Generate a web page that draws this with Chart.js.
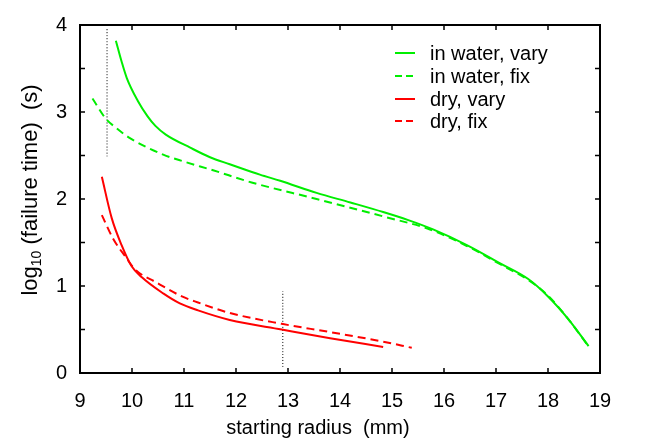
<!DOCTYPE html>
<html>
<head>
<meta charset="utf-8">
<script src="https://cdn.jsdelivr.net/npm/chart.js@4/dist/chart.umd.min.js"></script>
<style>
  html, body { margin: 0; background: #fff; }
</style>
</head>
<body>
<canvas id="grafico" width="646" height="445"></canvas>
<script>
// datos
const aguaVariaX = [9.69, 9.80, 9.90, 10.11, 10.30, 10.45, 10.65, 11.12, 11.50, 11.88, 12.46, 12.85, 13.55, 14.20, 14.83, 15.30, 15.79, 16.44, 17.08, 17.62, 18.00, 18.39, 18.78]
const aguaVariaY = [3.82, 3.58, 3.39, 3.13, 2.95, 2.84, 2.74, 2.59, 2.48, 2.40, 2.28, 2.21, 2.07, 1.96, 1.85, 1.76, 1.65, 1.47, 1.26, 1.08, 0.88, 0.62, 0.31]
const aguaFijaX = [9.24, 9.50, 9.70, 9.96, 10.60, 11.00, 11.56, 12.30, 13.55, 14.83, 15.73, 16.44, 17.08, 17.62, 18.00, 18.39, 18.75]
const aguaFijaY = [3.155, 2.92, 2.815, 2.70, 2.51, 2.43, 2.33, 2.19, 2.00, 1.80, 1.65, 1.46, 1.25, 1.07, 0.89, 0.62, 0.33]
const secoVariaX = [9.42, 9.61, 9.80, 9.99, 10.19, 10.60, 10.92, 11.27, 11.88, 12.88, 13.81, 14.83]
const secoVariaY = [2.255, 1.78, 1.47, 1.23, 1.10, 0.915, 0.80, 0.72, 0.61, 0.50, 0.40, 0.30]
const secoFijaX = [9.42, 9.64, 9.87, 10.06, 10.47, 10.96, 11.27, 11.88, 12.88, 13.81, 14.83, 15.38]
const secoFijaY = [1.815, 1.54, 1.34, 1.19, 1.04, 0.88, 0.81, 0.69, 0.565, 0.47, 0.36, 0.29]
// lineas punteadas verticales
const marcaAX = [9.52, 9.52]
const marcaAY = [2.49, 3.96]
const marcaBX = [12.9, 12.9]
const marcaBY = [0.07, 0.94]

const etiquetas = ['in water, vary', 'in water, fix', 'dry, vary', 'dry, fix']
const tituloX = 'starting radius  (mm)'

const verde = '#00ee00'
const rojo = '#ff0000'
const fuente = '"Liberation Sans", Arial, sans-serif'

function puntos(xs, ys) {
    return xs.map((x, i) => ({ x: x, y: ys[i] }))
}

function serie(label, xs, ys, color, dash) {
    return {
        label: label,
        data: puntos(xs, ys),
        borderColor: color,
        borderWidth: 2,
        borderDash: dash,
        pointRadius: 0,
        showLine: true,
        cubicInterpolationMode: 'monotone'
    }
}

const datasets = [
    serie(etiquetas[0], aguaVariaX, aguaVariaY, verde, []),
    serie(etiquetas[1], aguaFijaX, aguaFijaY, verde, [8, 5]),
    serie(etiquetas[2], secoVariaX, secoVariaY, rojo, []),
    serie(etiquetas[3], secoFijaX, secoFijaY, rojo, [8, 5]),
    serie('', marcaAX, marcaAY, '#000', [1, 2]),
    serie('', marcaBX, marcaBY, '#000', [1, 2])
]
datasets[4].borderWidth = 1
datasets[5].borderWidth = 1

// marco, marcas internas, leyenda y titulos
const decoracion = {
    id: 'decoracion',
    afterDatasetsDraw(chart) {
        const ctx = chart.ctx
        const a = chart.chartArea
        const sx = chart.scales.x
        const sy = chart.scales.y
        const largo = 5
        ctx.save()
        ctx.strokeStyle = '#000'
        ctx.lineWidth = 1.5
        ctx.beginPath()
        for (let v = 10; v < 19; v++) {
            const px = sx.getPixelForValue(v)
            ctx.moveTo(px, a.bottom); ctx.lineTo(px, a.bottom - largo)
            ctx.moveTo(px, a.top); ctx.lineTo(px, a.top + largo)
        }
        for (let v = 0.5; v < 4; v += 0.5) {
            const py = sy.getPixelForValue(v)
            ctx.moveTo(a.left, py); ctx.lineTo(a.left + largo, py)
            ctx.moveTo(a.right, py); ctx.lineTo(a.right - largo, py)
        }
        ctx.stroke()
        ctx.lineWidth = 2
        ctx.strokeRect(a.left, a.top, a.right - a.left, a.bottom - a.top)

        // leyenda
        ctx.font = '20px ' + fuente
        ctx.textBaseline = 'middle'
        ctx.fillStyle = '#000'
        const filas = [53, 76, 99, 121]
        for (let i = 0; i < 4; i++) {
            const ds = chart.data.datasets[i]
            ctx.strokeStyle = ds.borderColor
            ctx.lineWidth = 2
            ctx.setLineDash(ds.borderDash.length ? [7, 4] : [])
            ctx.beginPath()
            ctx.moveTo(395, filas[i]); ctx.lineTo(415, filas[i])
            ctx.stroke()
            ctx.setLineDash([])
            ctx.fillText(ds.label, 430, filas[i] + 1)
        }

        // titulo eje x
        ctx.font = '20px ' + fuente
        ctx.textAlign = 'center'
        ctx.textBaseline = 'alphabetic'
        ctx.fillText(tituloX, 318, 434)

        // titulo eje y con subindice
        ctx.translate(37, 190)
        ctx.rotate(-Math.PI / 2)
        const p1 = 'log'
        const p2 = '10'
        const p3 = ' (failure time)  (s)'
        ctx.font = '22px ' + fuente
        const w1 = ctx.measureText(p1).width
        const w3 = ctx.measureText(p3).width
        ctx.font = '14px ' + fuente
        const w2 = ctx.measureText(p2).width
        let x0 = -(w1 + w2 + w3) / 2
        ctx.textAlign = 'left'
        ctx.font = '22px ' + fuente
        ctx.fillText(p1, x0, 0)
        ctx.font = '14px ' + fuente
        ctx.fillText(p2, x0 + w1, 4)
        ctx.font = '22px ' + fuente
        ctx.fillText(p3, x0 + w1 + w2, 0)
        ctx.restore()
    }
}

new Chart(document.getElementById('grafico'), {
    type: 'scatter',
    data: { datasets: datasets },
    options: {
        responsive: false,
        animation: false,
        layout: { padding: { left: 0, top: 10, right: 46, bottom: 0 } },
        plugins: { legend: { display: false }, tooltip: { enabled: false } },
        scales: {
            x: {
                type: 'linear',
                min: 9,
                max: 19,
                afterFit: s => { s.height = 72 },
                grid: { display: false, drawTicks: false },
                border: { display: false },
                ticks: { stepSize: 1, color: '#000', padding: 16, font: { family: fuente, size: 20 } }
            },
            y: {
                min: 0,
                max: 4,
                afterFit: s => { s.width = 80 },
                grid: { display: false, drawTicks: false },
                border: { display: false },
                ticks: { stepSize: 1, color: '#000', padding: 13, font: { family: fuente, size: 20 } }
            }
        }
    },
    plugins: [decoracion]
})
</script>
</body>
</html>
